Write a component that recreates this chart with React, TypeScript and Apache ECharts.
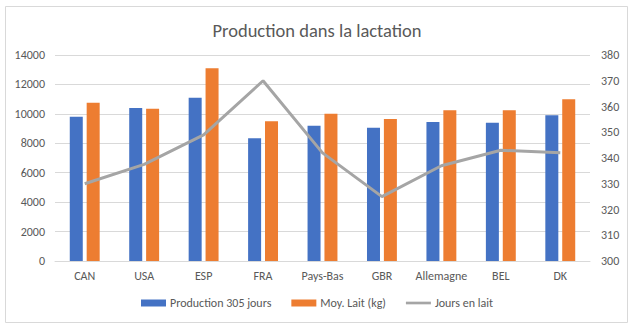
import React, { useEffect, useRef } from "react";
import * as echarts from "echarts";

const categories = ["CAN", "USA", "ESP", "FRA", "Pays-Bas", "GBR", "Allemagne", "BEL", "DK"];
const production305 = [9800, 10400, 11100, 8350, 9200, 9050, 9450, 9400, 9900];
const moyLait = [10750, 10350, 13100, 9500, 10000, 9650, 10250, 10250, 11000];
const joursEnLait = [330, 337.5, 349, 370, 342, 325, 337, 343, 342];
const leftTicks = { min: 0, max: 14000, interval: 2000 };
const rightTicks = { min: 300, max: 380, interval: 10 };

const FONT = "Carlito, Calibri, Lato, 'Noto Sans', sans-serif";
const TXT = "#595959";

export default function App() {
  const ref = useRef<HTMLDivElement>(null);
  useEffect(() => {
    if (!ref.current) return;
    const chart = echarts.init(ref.current, undefined, { renderer: "svg" });
    chart.setOption({
      animation: false,
      backgroundColor: "#ffffff",
      textStyle: { fontFamily: FONT },
      graphic: [
        {
          type: "rect",
          shape: { x: 5.5, y: 6.5, width: 622, height: 316 },
          style: { fill: "none", stroke: "#d9d9d9", lineWidth: 1 },
          silent: true,
        },
      ],
      title: {
        text: "Production dans la lactation",
        left: "center",
        top: 16,
        textStyle: { fontFamily: FONT, fontSize: 18.5, fontWeight: "normal", color: TXT },
      },
      legend: {
        bottom: 17,
        left: "center",
        itemWidth: 25,
        itemHeight: 7,
        itemGap: 20,
        textStyle: { fontFamily: FONT, fontSize: 12, color: TXT, padding: [0, 0, 0, -1] },
        data: [
          { name: "Production 305 jours", icon: "rect" },
          { name: "Moy. Lait (kg)", icon: "rect" },
          { name: "Jours en lait", icon: "path://M0 0H28V3H0Z" },
        ],
      },
      grid: { left: 55, right: 44, top: 55, bottom: 70, containLabel: false },
      xAxis: {
        type: "category",
        data: categories,
        axisLine: { lineStyle: { color: "#d9d9d9" } },
        axisTick: { show: false },
        axisLabel: { color: TXT, fontSize: 12, fontFamily: FONT, margin: 9, interval: 0 },
      },
      yAxis: [
        {
          type: "value",
          ...leftTicks,
          axisLine: { show: false },
          axisTick: { show: false },
          splitLine: { lineStyle: { color: "#d9d9d9" } },
          axisLabel: {
            color: TXT,
            fontSize: 12,
            fontFamily: FONT,
            margin: 10,
            formatter: (v: number) => String(v),
          },
        },
        {
          type: "value",
          ...rightTicks,
          axisLine: { show: false },
          axisTick: { show: false },
          splitLine: { show: false },
          axisLabel: {
            color: TXT,
            fontSize: 12,
            fontFamily: FONT,
            margin: 11,
            formatter: (v: number) => String(v),
          },
        },
      ],
      series: [
        {
          name: "Production 305 jours",
          type: "bar",
          data: production305,
          barWidth: 13,
          barGap: "30%",
          itemStyle: { color: "#4472c4" },
        },
        {
          name: "Moy. Lait (kg)",
          type: "bar",
          data: moyLait,
          barWidth: 13,
          barGap: "30%",
          itemStyle: { color: "#ed7d31" },
        },
        {
          name: "Jours en lait",
          type: "line",
          yAxisIndex: 1,
          data: joursEnLait,
          symbol: "none",
          showSymbol: false,
          lineStyle: { color: "#a5a5a5", width: 3 },
          itemStyle: { color: "#a5a5a5" },
        },
      ],
    });
    return () => chart.dispose();
  }, []);
  return (
    <div
      ref={ref}
      style={{ position: "fixed", left: 0, top: 0, width: 634, height: 331, background: "#fff" }}
    />
  );
}
